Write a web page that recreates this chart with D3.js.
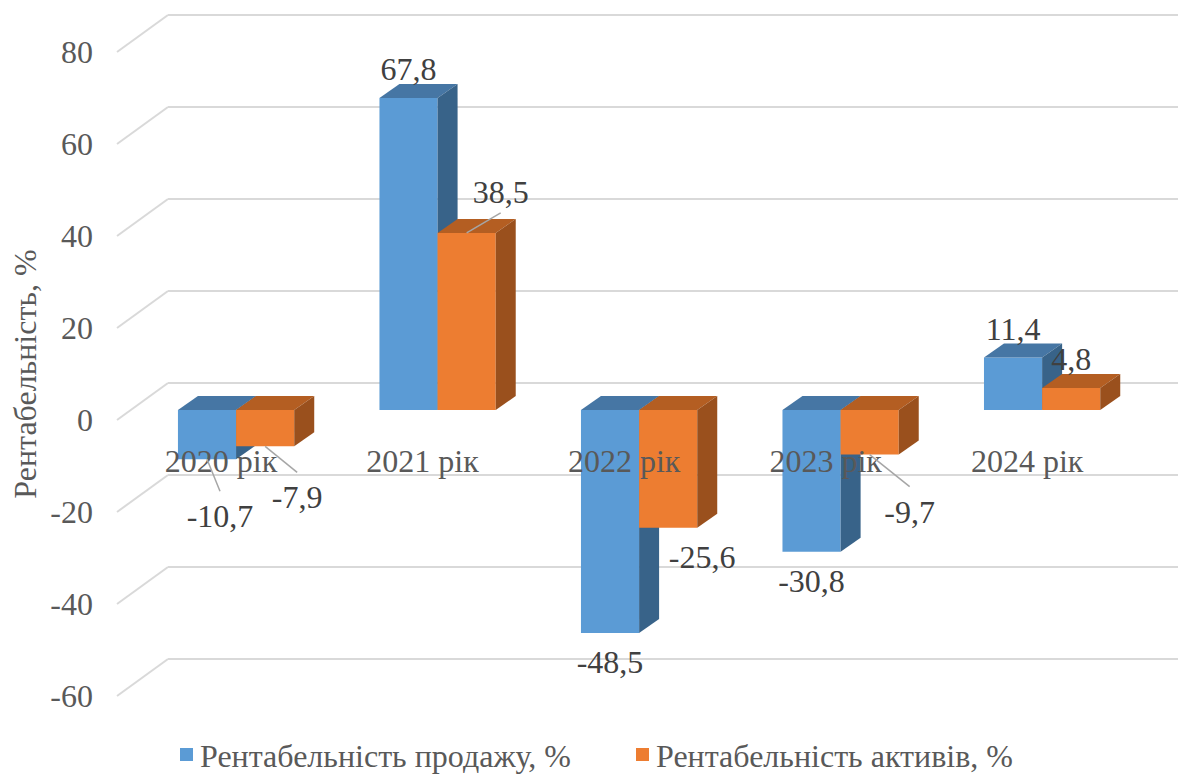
<!DOCTYPE html>
<html>
<head>
<meta charset="utf-8">
<script src="https://cdn.jsdelivr.net/npm/d3@7"></script>
<style>
  html, body { margin: 0; padding: 0; background: #fff; }
  svg { display: block; }
  text { font-family: 'Liberation Serif', 'Times New Roman', Tinos, serif; }
</style>
</head>
<body>
<svg id="chart" width="1179" height="776"></svg>
<script>
// ---- Data ----
const categories = ["2020 рік", "2021 рік", "2022 рік", "2023 рік", "2024 рік"];
const seriesNames = ["Рентабельність продажу, %", "Рентабельність активів, %"];
const salesProfitability = [-10.7, 67.8, -48.5, -30.8, 11.4];
const assetProfitability = [-7.9, 38.5, -25.6, -9.7, 4.8];
const yTicks = [-60, -40, -20, 0, 20, 40, 60, 80];
const yTitle = "Рентабельність, %";

// ---- Layout / styles ----
const F = "'Liberation Serif'";
const FS = 32;
const svg = d3.select("#chart");
const colors = [
  { front: "#5B9BD5", top: "#4676A4", side: "#386389" },
  { front: "#ED7D31", top: "#B45E22", side: "#9A501D" }
];
const wallY = d3.scaleLinear().domain([-60, 80]).range([659, 15]);
const wallLeft = 168, wallRight = 1178;
const floorDX = -51, floorDY = 37;      // wall -> front of floor
const barFrontDY = 27;                   // wall -> bar front plane (vertical shift)
const depthDX = 20, depthDY = -14;       // bar front -> bar back
const fmt = v => String(v).replace(".", ",");
const y = v => wallY(v) + barFrontDY;    // bar front plane

const x0 = d3.scaleBand().domain(categories).range([117.5, 1160.7])
  .paddingInner(0.423).paddingOuter(0.3);
const x1 = d3.scaleBand().domain([0, 1]).range([0, x0.bandwidth()]);

// ---- Gridlines (back wall + left wall diagonals) ----
yTicks.forEach(t => {
  const yy = wallY(t);
  svg.append("line").attr("x1", wallLeft).attr("x2", wallRight)
    .attr("y1", yy).attr("y2", yy).attr("stroke", "#D9D9D9").attr("stroke-width", 2);
  svg.append("line").attr("x1", wallLeft + floorDX).attr("y1", yy + floorDY)
    .attr("x2", wallLeft).attr("y2", yy).attr("stroke", "#D9D9D9").attr("stroke-width", 2);
});

// tick labels
yTicks.forEach(t => {
  svg.append("text").attr("x", 93).attr("y", wallY(t) + floorDY + 11)
    .attr("text-anchor", "end").attr("font-size", FS).attr("fill", "#595959")
    .style("font-family", F).text(t);
});

// y title
svg.append("text")
  .attr("transform", "translate(36,374) rotate(-90)")
  .attr("text-anchor", "middle").attr("font-size", FS).attr("fill", "#595959")
  .style("font-family", F).text(yTitle);

// ---- Bars ----
const values = [salesProfitability, assetProfitability];
const bars = [];
categories.forEach((c, i) => {
  [0, 1].forEach(s => {
    const v = values[s][i];
    const xl = x0(c) + x1(s), xr = xl + x1.bandwidth();
    const yt = y(Math.max(v, 0)), yb = y(Math.min(v, 0));
    bars.push({ c, i, s, v, xl, xr, yt, yb });
  });
});

bars.forEach(b => {
  const col = colors[b.s];
  svg.append("polygon").attr("fill", col.front)
    .attr("points", [[b.xl, b.yt], [b.xr, b.yt], [b.xr, b.yb], [b.xl, b.yb]].join(" "));
  svg.append("polygon").attr("fill", col.top)
    .attr("points", [[b.xl, b.yt], [b.xr, b.yt], [b.xr + depthDX, b.yt + depthDY], [b.xl + depthDX, b.yt + depthDY]].join(" "));
  svg.append("polygon").attr("fill", col.side)
    .attr("points", [[b.xr, b.yt], [b.xr + depthDX, b.yt + depthDY], [b.xr + depthDX, b.yb + depthDY], [b.xr, b.yb]].join(" "));
});

// ---- Category labels ----
categories.forEach(c => {
  svg.append("text").attr("x", x0(c) + x0.bandwidth() / 2 - 15).attr("y", 472)
    .attr("text-anchor", "middle").attr("font-size", FS).attr("fill", "#595959")
    .style("font-family", F).text(c);
});

// ---- Data labels (Excel-like displaced labels + leader lines) ----
const labelNudge = {
  "0-0": { dx: 13, dy: 28, leader: true },
  "0-1": { dx: 32, dy: 22, leader: true },
  "1-1": { dx: 34, dy: -12, leader: true },
  "2-1": { dx: 34, dy: 0, leader: false },
  "3-1": { dx: 40, dy: 28, leader: true }
};
bars.forEach(b => {
  const cx = (b.xl + b.xr) / 2;
  const ay = b.v >= 0 ? b.yt : b.yb;
  let lx = cx, ly = b.v >= 0 ? b.yt - 18 : b.yb + 40;
  const n = labelNudge[b.i + "-" + b.s];
  if (n) {
    lx += n.dx; ly += n.dy;
    if (n.leader) {
      const ey = b.v >= 0 ? ly + 10 : ly - 36;
      svg.append("line").attr("x1", cx).attr("y1", ay).attr("x2", lx).attr("y2", ey)
        .attr("stroke", "#A6A6A6").attr("stroke-width", 1.5);
    }
  }
  svg.append("text").attr("x", lx).attr("y", ly)
    .attr("text-anchor", "middle").attr("font-size", FS).attr("fill", "#404040")
    .style("font-family", F).text(fmt(b.v));
});

// ---- Legend ----
const legendX = [180, 636];
seriesNames.forEach((name, s) => {
  svg.append("rect").attr("x", legendX[s]).attr("y", 748).attr("width", 13).attr("height", 13)
    .attr("fill", colors[s].front);
  svg.append("text").attr("x", legendX[s] + 20).attr("y", 767)
    .attr("font-size", FS).attr("fill", "#595959")
    .style("font-family", F).text(name);
});
</script>
</body>
</html>
